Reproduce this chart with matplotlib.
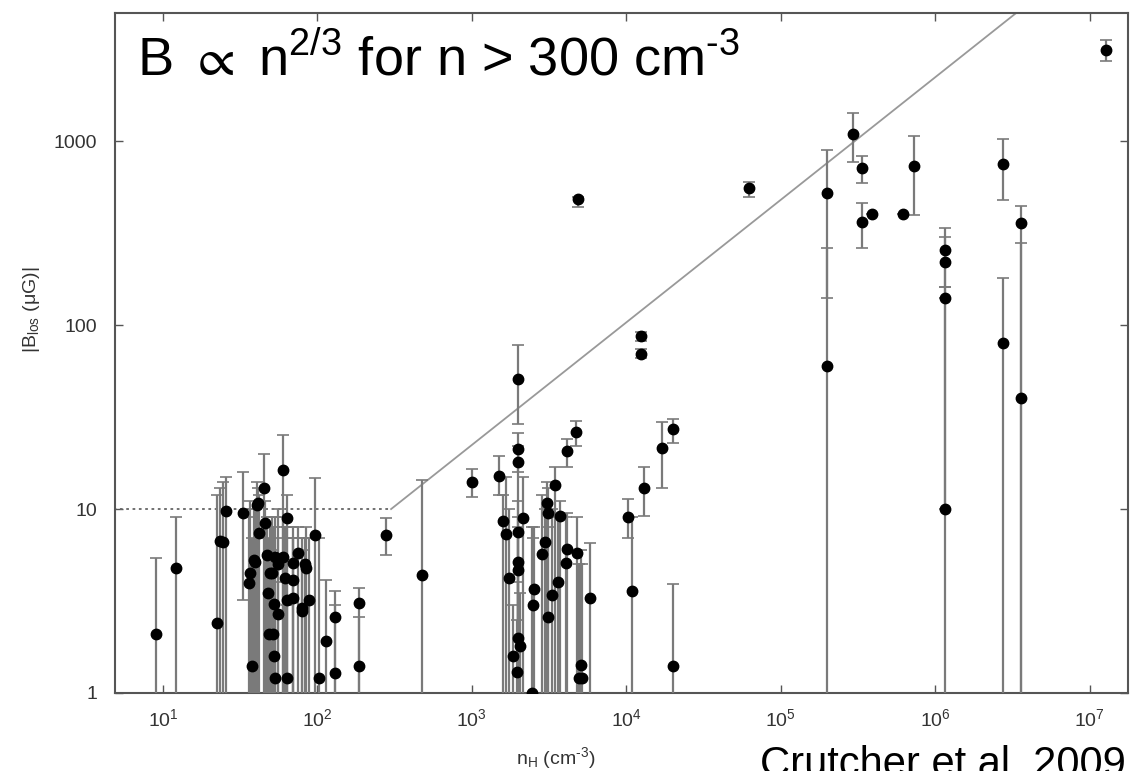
import numpy as np
import matplotlib.pyplot as plt
from matplotlib.ticker import FixedLocator, NullLocator, FixedFormatter

plt.rcParams['font.family'] = ['Liberation Sans', 'DejaVu Sans']
plt.rcParams['mathtext.fontset'] = 'custom'
plt.rcParams['mathtext.rm'] = 'Liberation Sans'
plt.rcParams['mathtext.it'] = 'Liberation Sans:italic'
plt.rcParams['mathtext.default'] = 'regular'

# Zeeman measurements: density n_H, |B_los|, lower / upper end of error bar
# (a lower end of 0.5 means the bar runs off the bottom of the plot)
n_H = [
    9.0, 12.1, 22.3, 24.4, 25.6, 23.5, 32.9, 37.6, 36, 36.5, 39.3, 40.6, 41.8, 45, 45.7,
    47.1, 47.8, 48.5, 51.5, 50.7, 52, 52, 53, 53, 55.5, 56, 59.7, 60, 61.5, 63.4, 63.4,
    63.4, 69.4, 70, 69.4, 74.7, 79.3, 80, 82.8, 84, 87.9, 96.2, 102, 113, 130, 130, 185,
    185, 41, 39, 49,
    277, 473, 998,
    1.49e3, 1.98e3, 1.98e3, 2.0e3, 1.58e3, 1.66e3, 2.13e3, 1.98e3, 1.98e3, 1.98e3, 1.73e3,
    1.98e3, 2.05e3, 1.84e3, 1.95e3, 2.51e3, 2.48e3, 2.45e3, 2.83e3, 2.96e3, 3.05e3, 3.1e3,
    3.43e3, 3.28e3, 3.1e3, 3.59e3, 3.7e3, 4.1e3, 4.69e3, 4.04e3, 4.1e3, 4.76e3, 5.06e3,
    5.2e3, 4.95e3, 5.78e3,
    4.9e3, 1.25e4, 1.25e4, 2.0e4, 1.7e4, 1.3e4, 1.02e4, 1.08e4, 2.0e4,
    6.2e4, 2.0e5, 2.0e5, 2.95e5, 3.35e5, 3.35e5, 3.9e5, 6.2e5, 7.3e5, 1.15e6, 1.15e6,
    1.15e6, 1.15e6, 2.75e6, 2.75e6, 3.6e6, 3.6e6, 1.28e7,
]
B_los = [
    2.09, 4.78, 2.4, 6.6, 9.75, 6.7, 9.5, 1.4, 3.96, 4.5, 5.15, 10.5, 7.4, 13, 8.4,
    5.6, 3.5, 2.09, 2.09, 4.5, 3.05, 1.59, 1.2, 5.5, 2.7, 5.0, 16.3, 5.5, 4.2, 8.9, 1.2,
    3.2, 5.1, 4.1, 3.3, 5.8, 2.8, 2.9, 5.0, 4.8, 3.2, 7.2, 1.2, 1.92, 2.59, 1.28, 3.08,
    1.4, 10.8, 5.3, 4.5,
    7.2, 4.4, 14,
    15.1, 21.2, 18, 51, 8.6, 7.3, 8.9, 7.5, 5.15, 4.66, 4.2,
    2.0, 1.8, 1.59, 1.3, 3.67, 3.0, 1.0, 5.7, 6.6, 10.8, 9.5,
    13.5, 3.4, 2.6, 4.0, 9.2, 20.7, 26.2, 5.1, 6.1, 5.8, 1.42,
    1.2, 1.2, 3.3,
    484, 87, 70, 27.2, 21.4, 13, 9.05, 3.6, 1.4,
    556, 520, 60, 1100, 713, 363, 400, 400, 731, 256, 220,
    140, 10, 750, 80, 358, 40, 3125,
]
B_lo = [
    0.5, 0.5, 0.5, 0.5, 0.5, 0.5, 3.2, 0.5, 0.5, 0.5, 0.5, 0.5, 0.5, 0.5, 0.5,
    0.5, 0.5, 0.5, 0.5, 0.5, 0.5, 0.5, 0.5, 0.5, 0.5, 0.5, 0.5, 0.5, 0.5, 0.5, 0.5,
    0.5, 0.5, 0.5, 0.5, 0.5, 0.5, 0.5, 0.5, 0.5, 0.5, 0.5, 0.5, 0.5, 0.5, 0.5, 0.5,
    0.5, 0.5, 0.5, 0.5,
    5.6, 0.5, 11.6,
    12, 16, 0.5, 29, 0.5, 0.5, 0.5, 0.5, 0.5, 0.5, 0.5,
    0.5, 0.5, 0.5, 0.5, 0.5, 0.5, 0.5, 0.5, 0.5, 0.5, 0.5,
    0.5, 0.5, 0.5, 0.5, 0.5, 17, 22, 0.5, 0.5, 0.5, 0.5,
    0.5, 0.5, 0.5,
    438, 82, 66, 23, 13, 9.2, 7, 0.5, 0.5,
    500, 140, 0.5, 770, 590, 262, 400, 400, 396, 140, 161,
    10, 0.5, 478, 0.5, 0.5, 0.5, 2720,
]
B_hi = [
    5.4, 9.05, 12, 14, 15, 13, 15.9, 7, 9, 11, 10, 14, 12, 20, 11,
    9, 7, 6, 6, 9, 8, 5, 4, 9, 7, 10, 25.2, 9, 8, 12, 3,
    8, 8, 7, 7, 8, 7, 6, 7, 8, 7, 14.7, 7, 4.1, 3.6, 3, 3.7,
    2.6, 13, 10, 8,
    8.9, 14.4, 16.5,
    19.4, 25.9, 22, 78, 12, 15, 15, 11, 9, 8, 10,
    4, 3.5, 3, 2.5, 8, 7, 8, 12, 10, 14, 13,
    17, 10, 8, 9, 11, 24, 30, 9, 9.5, 9, 6,
    5, 5, 6.5,
    500, 92, 74, 31, 29.7, 16.9, 11.3, 9, 3.9,
    600, 900, 262, 1420, 830, 460, 400, 400, 1065, 337, 301,
    161, 140, 1025, 180, 443, 279, 3540,
]

# broken power law: flat 10 uG below 300 cm^-3, B ~ n^(2/3) above
n_break = 300.0
B_flat = 10.0
slope = 2.0 / 3.0

n_arr = np.array(n_H)
B_arr = np.array(B_los)
yerr = [B_arr - np.array(B_lo), np.array(B_hi) - B_arr]

fig = plt.figure(figsize=(11.3, 7.71), dpi=100)
ax = fig.add_axes([0.1018, 0.1012, 0.8962, 0.8823])

ax.errorbar(n_arr, B_arr, yerr=yerr, fmt='o', color='black', markersize=7.5,
            ecolor='#7a7a7a', elinewidth=1.6, capsize=4, capthick=1.2, zorder=3)

n_lo = np.array([3.0, n_break])
ax.plot(n_lo, B_flat * np.ones_like(n_lo), linestyle=(0, (1.5, 2)), color='#666666', lw=1.3)
n_hi = np.array([n_break, 1e8])
ax.plot(n_hi, B_flat * (n_hi / n_break) ** slope, color='#999999', lw=1.3)

ax.set_xscale('log')
ax.set_yscale('log')
ax.set_xlim(4.9, 1.76e7)
ax.set_ylim(1, 5000)

ax.xaxis.set_major_locator(FixedLocator([1e1, 1e2, 1e3, 1e4, 1e5, 1e6, 1e7]))
ax.xaxis.set_major_formatter(FixedFormatter([r'10$^{%d}$' % k for k in range(1, 8)]))
ax.yaxis.set_major_locator(FixedLocator([1, 10, 100, 1000]))
ax.yaxis.set_major_formatter(FixedFormatter(['1', '10', '100', '1000']))
ax.xaxis.set_minor_locator(NullLocator())
ax.yaxis.set_minor_locator(NullLocator())
ax.tick_params(direction='in', length=6, width=1, top=True, right=True,
               labelsize=14, labelcolor='#333333', color='#555555')
ax.tick_params(axis='y', pad=13)
ax.tick_params(axis='x', pad=11)
for s in ax.spines.values():
    s.set_color('#555555')
    s.set_linewidth(1.5)

fig.text(0.492, 0.017, r'n$_{\rm H}$ (cm$^{\text{-}3}$)', fontsize=14, color='#333333',
         ha='center', va='center')
fig.text(0.028, 0.598, r'|B$_{\rm los}$ ($\mu$G)|', fontsize=14, color='#333333',
         rotation=90, ha='center', va='center')

ax.text(0.022, 0.907, r'B $\propto$ n$^{2/3}$ for n > 300 cm$^{\text{-}3}$', transform=ax.transAxes,
        fontsize=39, color='black', ha='left', va='baseline')
fig.text(0.6726, -0.006, 'Crutcher et al. 2009', fontsize=30, color='black',
         ha='left', va='baseline')

plt.savefig('out.png', dpi=100)
